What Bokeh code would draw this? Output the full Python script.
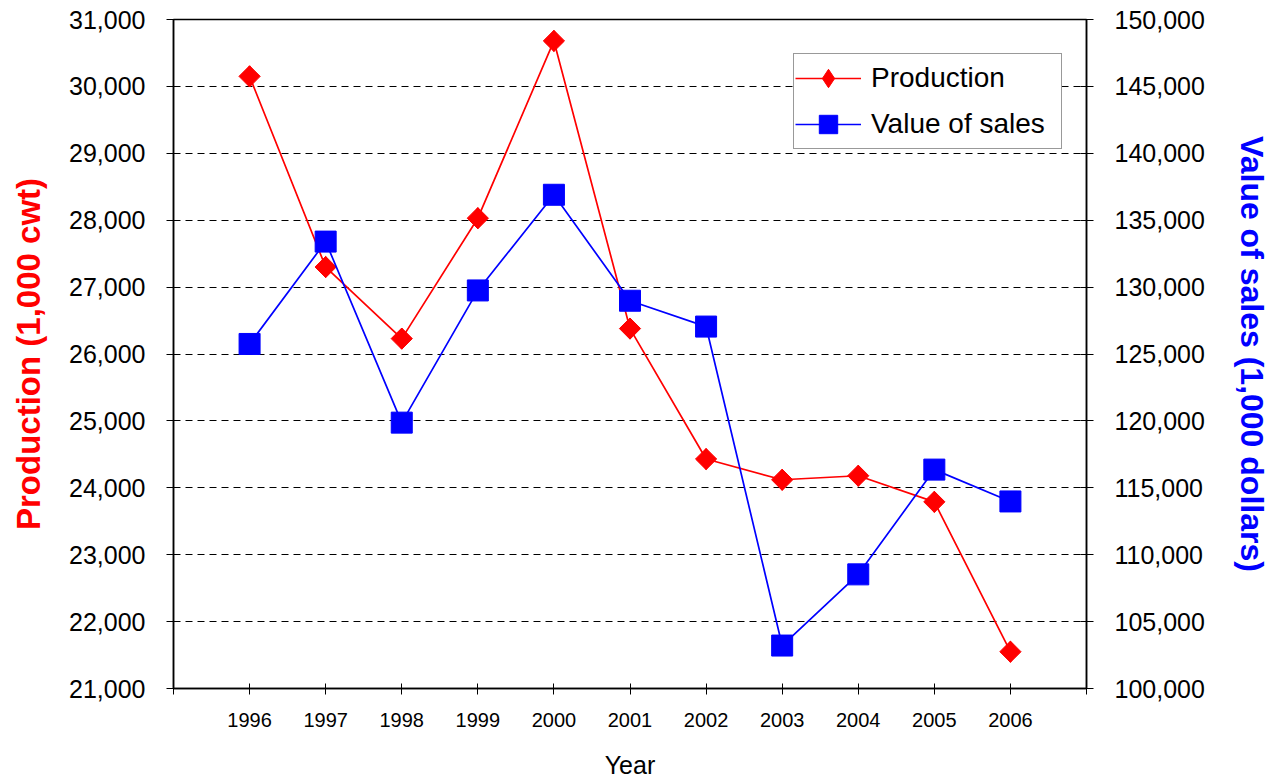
import math
from bokeh.plotting import figure
from bokeh.models import Range1d, LinearAxis, FixedTicker, NumeralTickFormatter, Legend, LegendItem
from bokeh.embed import file_html
from bokeh.resources import INLINE

# ---- data ----
years = [1996, 1997, 1998, 1999, 2000, 2001, 2002, 2003, 2004, 2005, 2006]
production = [30150, 27300, 26230, 28030, 30680, 26380, 24430, 24120, 24180, 23790, 21550]
value_of_sales = [125750, 133400, 119870, 129750, 136900, 128980, 127050, 103210, 108530, 116360, 113980]

x_ticks = list(range(1995, 2008))
left_ticks = list(range(21000, 31001, 1000))
right_ticks = list(range(100000, 150001, 5000))

FONT = "Liberation Sans"

p = figure(width=1273, height=781,
           x_range=Range1d(1995, 2007), y_range=Range1d(21000, 31000),
           output_backend="svg", toolbar_location=None,
           min_border_left=173, min_border_right=187,
           min_border_top=19, min_border_bottom=91)
p.extra_y_ranges = {"sales": Range1d(100000, 150000)}

p.background_fill_color = "white"
p.border_fill_color = "white"
p.outline_line_color = "black"
p.outline_line_width = 1.5

# grid
p.xgrid.visible = False
p.ygrid.ticker = FixedTicker(ticks=left_ticks)
p.ygrid.grid_line_color = "black"
p.ygrid.grid_line_width = 1
p.ygrid.grid_line_dash = "7 5"

# x axis
xa = p.xaxis[0]
xa.ticker = FixedTicker(ticks=x_ticks)
xa.major_label_overrides = {1995: "", 2007: ""}
xa.axis_label = "Year"
xa.axis_label_text_font = FONT
xa.axis_label_text_font_size = "25px"
xa.axis_label_text_font_style = "normal"
xa.axis_label_text_color = "black"
xa.axis_label_standoff = 21
xa.major_label_text_font = FONT
xa.major_label_text_font_size = "20px"
xa.major_label_text_color = "black"
xa.major_label_standoff = 18
xa.major_tick_in = 5
xa.major_tick_out = 6
xa.minor_tick_line_color = None
xa.axis_line_color = "black"
xa.axis_line_width = 1.5
xa.major_tick_line_color = "black"

# left y axis
ya = p.yaxis[0]
ya.ticker = FixedTicker(ticks=left_ticks)
ya.formatter = NumeralTickFormatter(format="0,0")
ya.axis_label = "Production (1,000 cwt)"
ya.axis_label_text_font = FONT
ya.axis_label_text_font_size = "33px"
ya.axis_label_text_font_style = "bold"
ya.axis_label_text_color = "#FF0000"
ya.axis_label_standoff = 19
ya.major_label_text_font = FONT
ya.major_label_text_font_size = "25px"
ya.major_label_text_color = "black"
ya.major_label_standoff = 21
ya.major_tick_in = 6
ya.major_tick_out = 7
ya.minor_tick_line_color = None
ya.axis_line_color = "black"
ya.axis_line_width = 1.5
ya.major_tick_line_color = "black"

# right y axis
ra = LinearAxis(y_range_name="sales",
                ticker=FixedTicker(ticks=right_ticks),
                formatter=NumeralTickFormatter(format="0,0"),
                axis_label="Value of sales (1,000 dollars)")
ra.axis_label_text_font = FONT
ra.axis_label_text_font_size = "32px"
ra.axis_label_text_font_style = "bold"
ra.axis_label_text_color = "#0000FF"
ra.axis_label_standoff = 26
ra.major_label_text_font = FONT
ra.major_label_text_font_size = "25px"
ra.major_label_text_color = "black"
ra.major_label_standoff = 21
ra.major_tick_in = 6
ra.major_tick_out = 7
ra.minor_tick_line_color = None
ra.axis_line_color = "black"
ra.axis_line_width = 1.5
ra.major_tick_line_color = "black"
p.add_layout(ra, "right")

# series
prod_line = p.line(years, production, line_color="#FF0000", line_width=1.7)
prod_diamond = p.scatter(years, production, marker="diamond", size=21,
                         fill_color="#FF0000", line_color="#FF0000")
p.scatter(years, production, marker="square", angle=math.pi / 4, size=15,
          fill_color="#FF0000", line_color="#FF0000")

sales_line = p.line(years, value_of_sales, y_range_name="sales", line_color="#0000FF",
                    line_width=1.7)
sales_sq = p.scatter(years, value_of_sales, y_range_name="sales", marker="square", size=21,
                     fill_color="#0000FF", line_color="#0000FF")

# legend
lg = Legend(items=[LegendItem(label="Production", renderers=[prod_line, prod_diamond]),
                   LegendItem(label="Value of sales", renderers=[sales_line, sales_sq])])
lg.location = (620, 539)
lg.glyph_width = 66
lg.glyph_height = 46
lg.spacing = 0
lg.padding = 1
lg.margin = 0
lg.label_standoff = 10
lg.label_width = 189
lg.label_text_font = FONT
lg.label_text_font_size = "28px"
lg.label_text_color = "black"
lg.border_line_color = "#333333"
lg.border_line_width = 1
lg.background_fill_color = "white"
lg.background_fill_alpha = 1.0
p.add_layout(lg, "center")

open("out.html", "w").write(file_html(p, INLINE))
